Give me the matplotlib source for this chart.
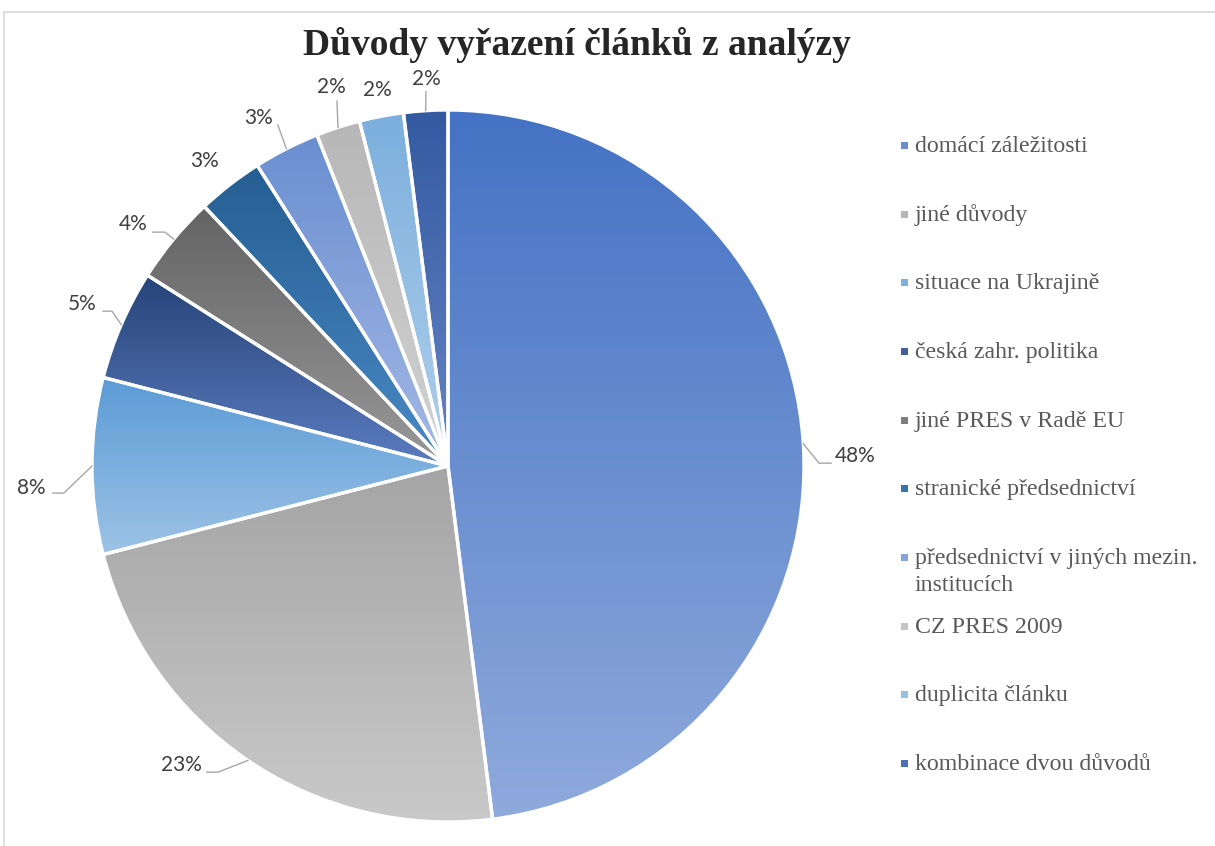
import numpy as np
import matplotlib
matplotlib.use("Agg")
import matplotlib.pyplot as plt
import matplotlib.patches as mpatches
from matplotlib.colors import to_rgb
from matplotlib.lines import Line2D

# ------------------------------------------------------------------ #
#  Data
# ------------------------------------------------------------------ #
categories = [
    "domácí záležitosti",
    "jiné důvody",
    "situace na Ukrajině",
    "česká zahr. politika",
    "jiné PRES v Radě EU",
    "stranické předsednictví",
    "předsednictví v jiných mezin.\ninstitucích",
    "CZ PRES 2009",
    "duplicita článku",
    "kombinace dvou důvodů",
]
shares = [48, 23, 8, 5, 4, 3, 3, 2, 2, 2]

# gradient colours per slice (top -> bottom)
top_colors = ["#4472C4", "#A5A5A5", "#5B9BD5", "#264478", "#636363",
              "#255E91", "#698ED0", "#B7B7B7", "#7CAFDD", "#335AA1"]
bottom_colors = ["#8FAADC", "#C9C9C9", "#9DC3E6", "#5B7CC0", "#999999",
                 "#4A8AC6", "#A5B9E5", "#D2D2D2", "#B0CFEC", "#6684C4"]

# ------------------------------------------------------------------ #
#  Label layout (pie radius units, pie centre at 0,0)
# ------------------------------------------------------------------ #
label_xy = [(1.143, 0.028), (-0.750, -0.840), (-1.171, -0.062),
            (-1.028, 0.455), (-0.885, 0.680), (-0.683, 0.857),
            (-0.531, 0.978), (-0.329, 1.065), (-0.199, 1.056),
            (-0.062, 1.087)]
# leader polyline points after the anchor on the pie edge
leader_pts = [
    [(1.042, 0.008), (1.076, 0.008)],
    [(-0.646, -0.860), (-0.677, -0.860)],
    [(-1.079, -0.076), (-1.110, -0.076)],
    [(-0.944, 0.435), (-0.969, 0.435)],
    [(-0.795, 0.657), (-0.829, 0.657)],
    [],
    [(-0.478, 0.958)],
    [(-0.312, 1.025)],
    [],
    [(-0.062, 1.051)],
]

W, H = 1215, 846
CX, CY, R = 448, 466, 356   # pie centre / radius in pixels

fig = plt.figure(figsize=(W / 100, H / 100), dpi=100)
ax = fig.add_axes([0, 0, 1, 1])

wedges, _ = ax.pie(shares, startangle=90, counterclock=False, radius=1,
                   center=(0, 0), colors=top_colors,
                   wedgeprops=dict(edgecolor="white", linewidth=2.4))

# gradient fill clipped to each wedge
for w, c_top, c_bot in zip(wedges, top_colors, bottom_colors):
    ext = w.get_path().get_extents()
    t = np.linspace(0, 1, 256)[:, None]
    grad = (1 - t) * np.array(to_rgb(c_top)) + t * np.array(to_rgb(c_bot))
    im = ax.imshow(grad[:, None, :], extent=(ext.x0, ext.x1, ext.y0, ext.y1),
                   origin="upper", aspect="auto", interpolation="bilinear",
                   zorder=1)
    im.set_clip_path(w)
    w.set_facecolor("none")
    w.set_zorder(2)

# data labels with leader lines
for w, v, (lx, ly), pts in zip(wedges, shares, label_xy, leader_pts):
    mid = np.deg2rad((w.theta1 + w.theta2) / 2)
    anchor = (np.cos(mid), np.sin(mid))
    if pts:
        xs = [anchor[0]] + [p[0] for p in pts]
        ys = [anchor[1]] + [p[1] for p in pts]
        ax.plot(xs, ys, color="#A6A6A6", lw=1.0, zorder=3)
    ax.text(lx, ly, f"{v}%", ha="center", va="center", fontsize=15,
            family="Lato", color="#404040", zorder=4)

ax.set_xlim(-CX / R, (W - CX) / R)
ax.set_ylim((CY - H) / R, CY / R)
ax.set_aspect("auto")
ax.axis("off")

# title
fig.text(577 / W, 1 - 55 / H, "Důvody vyřazení článků z analýzy",
         ha="center", va="baseline", fontsize=27, fontweight="bold",
         family="Liberation Serif", color="#262626")

# legend (drawn manually, one text per line)
y0, step, line_h = 145, 68.67, 27
for i, (name, c_top, c_bot) in enumerate(zip(categories, top_colors, bottom_colors)):
    y = y0 + i * step
    mid_col = 0.5 * np.array(to_rgb(c_top)) + 0.5 * np.array(to_rgb(c_bot))
    fig.patches.append(mpatches.Rectangle((901 / W, 1 - (y + 4) / H), 7 / W, 7 / H,
                                          transform=fig.transFigure,
                                          facecolor=mid_col, edgecolor="none"))
    for k, line in enumerate(name.split("\n")):
        fig.text(915 / W, 1 - (y + 7 + k * line_h) / H, line, ha="left",
                 va="baseline", fontsize=17.2, family="Liberation Serif",
                 color="#595959")

# chart border (top and left edges visible)
fig.add_artist(Line2D([4 / W, 1], [1 - 12 / H, 1 - 12 / H], transform=fig.transFigure,
                      color="#D9D9D9", lw=1.2))
fig.add_artist(Line2D([4 / W, 4 / W], [0, 1 - 12 / H], transform=fig.transFigure,
                      color="#D9D9D9", lw=1.2))

fig.savefig("out.png", dpi=100, facecolor="white")
